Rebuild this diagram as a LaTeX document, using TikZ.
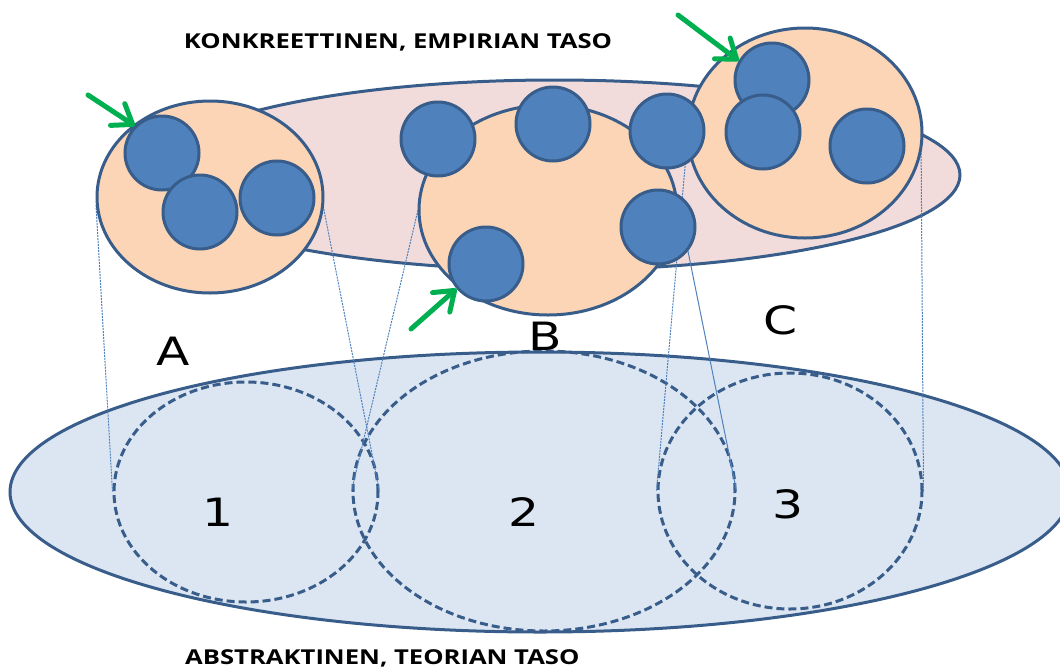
\documentclass[tikz,border=0pt]{standalone}
\usepackage{fontspec}
\usetikzlibrary{shapes.geometric,arrows.meta}
\newfontfamily\titlefont{Open Sans}[FakeStretch=1.25]
\newfontfamily\labelfont{DejaVu Sans}[FakeStretch=1.25]
\definecolor{edgeblue}{HTML}{385D8A}
\definecolor{ballblue}{HTML}{4F81BD}
\definecolor{peach}{HTML}{FBD5B5}
\definecolor{rose}{HTML}{F2DCDB}
\definecolor{pale}{HTML}{DCE6F2}
\definecolor{arrowgreen}{HTML}{00B050}
\tikzset{
  plane/.style={ellipse, draw=edgeblue, line width=3pt, inner sep=0pt},
  cluster/.style={ellipse, draw=edgeblue, fill=peach, line width=3pt, inner sep=0pt},
  case/.style={circle, draw=edgeblue, fill=ballblue, line width=3pt, inner sep=0pt, minimum size=74pt},
  concept/.style={ellipse, draw=edgeblue, line width=3pt, dash pattern=on 8pt off 4pt, inner sep=0pt},
  proj/.style={draw=ballblue, line width=1pt, dash pattern=on 2pt off 1pt},
  projsolid/.style={draw=ballblue, line width=1pt},
  pointer/.style={draw=arrowgreen, line width=5pt, line cap=round, -{Straight Barb[length=18pt,width=26pt,round]}},
  bigletter/.style={inner sep=0pt, font=\labelfont\fontsize{39}{39}\selectfont},
  heading/.style={inner sep=0pt, font=\titlefont\bfseries\fontsize{20.5}{20.5}\selectfont}
}
\begin{document}
\begin{tikzpicture}[x=1pt,y=-1pt]
\useasboundingbox (0,0) rectangle (1060,667);
\clip (0,0) rectangle (1060,667);

% theory level
\node[plane, fill=pale, minimum width=1060pt, minimum height=280pt] (theory) at (540,492) {};
\node[concept, minimum width=264pt, minimum height=220pt] (c1) at (246,492) {};
\node[concept, minimum width=382pt, minimum height=280pt] (c2) at (544,491) {};
\node[concept, minimum width=264pt, minimum height=236pt] (c3) at (790,491) {};

% empirical level
\node[plane, fill=rose, minimum width=810pt, minimum height=190pt] (empiria) at (555,175) {};

% group outlines (for projections)
\coordinate (Aw) at (96,205);
\coordinate (Ae) at (322,200);
\coordinate (Bw) at (418,210);
\coordinate (Be) at (677,197);
\coordinate (Cw) at (688,133);
\coordinate (Ce) at (921,135);

% projections between the levels
\draw[proj] (Aw) -- (c1.west);
\draw[proj] (Ae) -- (c1.east);
\draw[proj] (Bw) -- (c2.west);
\draw[projsolid] (Be) -- (c2.east);
\draw[proj] (Cw) -- (c3.west);
\draw[proj] (Ce) -- (c3.east);

% group A
\node[cluster, minimum width=226pt, minimum height=192pt] (A) at (210,197) {};
\node[case] (a1) at (162,153) {};
\node[case] (a2) at (200,212) {};
\node[case] (a3) at (277,198) {};

% groups B and C
\node[cluster, minimum width=258pt, minimum height=210pt] (B) at (548,210) {};
\node[cluster, minimum width=234pt, minimum height=210pt] (C) at (805,133) {};
\node[case] (b1) at (438,139) {};
\node[case] (b2) at (553,124) {};
\node[case] (b3) at (667,131) {};
\node[case] (b4) at (658,227) {};
\node[case] (b5) at (486,264) {};
\node[case] (k1) at (772,80) {};
\node[case] (k2) at (763,132) {};
\node[case] (k3) at (867,146) {};

% pointers
\coordinate (p1) at (88,95);
\coordinate (p2) at (678,15);
\coordinate (p3) at (411,329);
\draw[pointer] (p1) -- (a1.135);
\draw[pointer] (p2) -- (k1.150);
\draw[pointer] (p3) -- (b5.220);

% labels
\node[bigletter] (lA) at (173,351) {A};
\node[bigletter] (lB) at (545,336) {B};
\node[bigletter] (lC) at (781,320) {C};
\node[bigletter] (l1) at (218,512) {1};
\node[bigletter] (l2) at (524,512) {2};
\node[bigletter] (l3) at (788,504) {3};

\node[heading, anchor=base] (top) at (398,48) {KONKREETTINEN, EMPIRIAN TASO};
\node[heading, anchor=base west] (bottom) at (185,664) {ABSTRAKTINEN, TEORIAN TASO};
\end{tikzpicture}
\end{document}
